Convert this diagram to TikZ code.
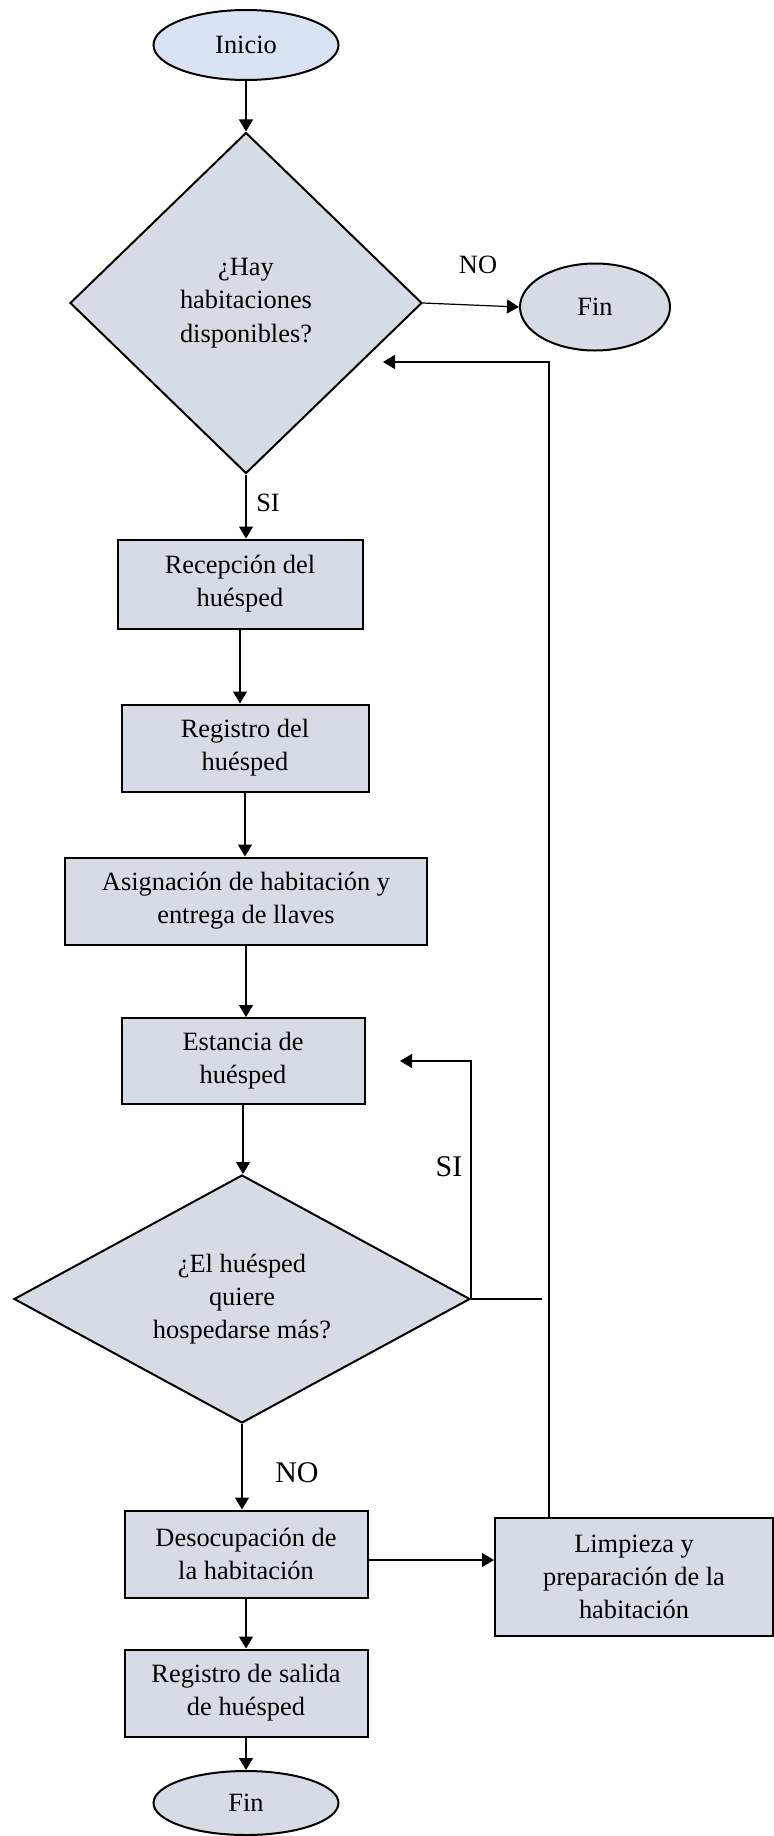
\documentclass[tikz,border=0pt]{standalone}
\usepackage{fontspec}
\setmainfont{Liberation Serif}
\usepackage{xcolor}
\usetikzlibrary{shapes.geometric}
\usetikzlibrary{arrows.meta}
\usetikzlibrary{positioning}
\definecolor{termfill}{HTML}{DAE3F3}
\definecolor{boxfill}{HTML}{D6DCE5}

\begin{document}
\begin{tikzpicture}[
  x=0.5pt, y=-0.5pt,
  every node/.style={font=\fontsize{13.2}{16.6}\selectfont},
  proc/.style={rectangle, draw, line width=1pt, fill=boxfill, align=center, inner sep=0pt},
  decision/.style={diamond, draw, line width=1pt, fill=boxfill, align=center, inner sep=0pt},
  term/.style={ellipse, draw, line width=1pt, fill=boxfill, inner sep=0pt},
  lbl/.style={inner sep=0pt},
  biglbl/.style={inner sep=0pt, font=\fontsize{15}{18}\selectfont},
  arr/.style={draw, line width=0.6pt, -{Triangle[length=6pt,width=7pt]}}
]
\useasboundingbox (0,0) rectangle (774,1836);

% nodes
\node[term, fill=termfill, minimum width=92.5pt, minimum height=35pt] (ini) at (246,45) {Inicio};
\node[decision, minimum width=176pt, minimum height=170.5pt] (q1) at (246,303) {¿Hay\\habitaciones\\disponibles?};
\node[term, minimum width=75pt, minimum height=43.5pt] (fin1) at (595,307) {Fin};
\node[proc, minimum width=122.5pt, minimum height=44.5pt] (rec) at (240,584) {Recepción del\\huésped};
\node[proc, minimum width=123.5pt, minimum height=43.5pt] (reg) at (245,748) {Registro del\\huésped};
\node[proc, minimum width=181pt, minimum height=43.5pt] (asig) at (246,901) {Asignación de habitación y\\entrega de llaves};
\node[proc, minimum width=121.5pt, minimum height=43pt] (est) at (243,1061) {Estancia de\\huésped};
\node[decision, shape aspect=1.84, minimum width=228pt, minimum height=124pt] (q2) at (242,1299) {¿El huésped\\quiere\\hospedarse más?};
\node[proc, minimum width=121.5pt, minimum height=43.5pt] (des) at (246,1554) {Desocupación de\\la habitación};
\node[proc, minimum width=139pt, minimum height=59pt] (limp) at (634,1577) {Limpieza y\\preparación de la\\habitación};
\node[proc, minimum width=121.5pt, minimum height=43.5pt] (sal) at (246,1693) {Registro de salida\\de huésped};
\node[term, minimum width=92.5pt, minimum height=32pt] (fin2) at (246,1803) {Fin};

\coordinate (q1in) at (383,362);
\coordinate (estin) at (400,1061);
\coordinate (q2out) at (542,1299);

% labels
\node[lbl] (no1) at (478,265) {NO};
\node[lbl] (si1) at (268,503) {SI};
\node[biglbl] (si2) at (449,1167) {SI};
\node[biglbl] (no2) at (297,1473) {NO};

% connectors
\draw[arr] (ini) -- (q1);
\draw[arr] (q1.east) -- (fin1.west);
\draw[arr] (q1.south) -- (q1.south |- rec.north);
\draw[arr] (rec.south) -- (rec.south |- reg.north);
\draw[arr] (reg.south) -- (reg.south |- asig.north);
\draw[arr] (asig.south) -- (asig.south |- est.north);
\draw[arr] (est.south) -- (est.south |- q2.north);
\draw[arr] (q2.south) -- (q2.south |- des.north);
\draw[arr] (q2.east) |- (estin);
\draw[line width=0.6pt] (q2.east) -- (q2out);
\draw[arr] ([yshift=-3pt]des.east) -- ([yshift=-3pt]des.east -| limp.west);
\draw[arr] (limp.north west) ++(55,0) |- (q1in);
\draw[arr] (des.south) -- (des.south |- sal.north);
\draw[arr] (sal.south) -- (sal.south |- fin2.north);
\end{tikzpicture}
\end{document}
